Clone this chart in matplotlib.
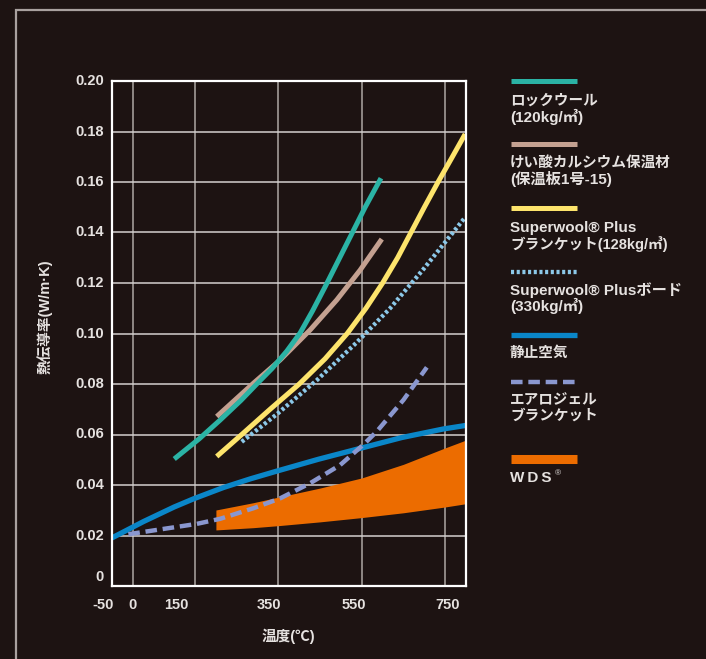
import matplotlib

matplotlib.use("Agg")
import matplotlib.pyplot as plt
import matplotlib.transforms as mtransforms

# ---- data ----
rockwool_t = [100, 160, 210, 260, 298, 335, 370, 402, 432, 462, 494, 526,
              558, 596]
rockwool_k = [0.0503, 0.0583, 0.0657, 0.0735, 0.0800, 0.0862, 0.0930,
              0.1002, 0.1090, 0.1185, 0.1290, 0.1395, 0.1500, 0.1615]

casi_t = [202, 290, 354, 426, 490, 546, 598]
casi_k = [0.0671, 0.0803, 0.0895, 0.1014, 0.1133, 0.1251, 0.1374]

blanket_t = [202, 262, 330, 400, 462, 515, 560, 600, 636, 668, 700, 733,
             764, 798]
blanket_k = [0.0513, 0.0600, 0.0700, 0.0800, 0.0900, 0.1000, 0.1100,
             0.1200, 0.1300, 0.1400, 0.1500, 0.1600, 0.1690, 0.1790]

board_t = [262, 346, 442, 538, 618, 698, 796]
board_k = [0.0571, 0.0680, 0.0815, 0.0965, 0.1100, 0.1255, 0.1456]

air_t = [-50, 26, 100, 146, 218, 282, 346, 446, 546, 646, 746, 800]
air_k = [0.0190, 0.0255, 0.0313, 0.0345, 0.0390, 0.0424, 0.0455, 0.0502,
         0.0545, 0.0588, 0.0622, 0.0636]

aerogel_t = [-10, 66, 154, 210, 290, 354, 426, 498, 554, 586, 650, 706]
aerogel_k = [0.0205, 0.0224, 0.0246, 0.0266, 0.0308, 0.0347, 0.0407,
             0.0479, 0.0560, 0.0612, 0.0737, 0.0866]

wds_t = [200, 290, 350, 450, 550, 650, 750, 800]
wds_hi = [0.0301, 0.0330, 0.0352, 0.0388, 0.0428, 0.0482, 0.0547, 0.0578]
wds_lo = [0.0222, 0.0231, 0.0239, 0.0254, 0.0271, 0.0290, 0.0313, 0.0326]

x_grid = [0, 150, 350, 550, 750]
y_grid = [0.02, 0.04, 0.06, 0.08, 0.10, 0.12, 0.14, 0.16, 0.18]
x_labels = ["-50", "0", "150", "350", "550", "750"]
x_label_pos = [-71, -1, 104, 328, 532, 755]
y_labels = ["0", "0.02", "0.04", "0.06", "0.08", "0.10", "0.12", "0.14",
            "0.16", "0.18", "0.20"]
y_label_pos = [0.0036, 0.02, 0.04, 0.06, 0.08, 0.10, 0.12, 0.14, 0.16,
               0.18, 0.20]

legend_lines = [
    ["ロックウール", "(120kg/㎥)"],
    ["けい酸カルシウム保温材", "(保温板1号-15)"],
    ["Superwool® Plus", "ブランケット(128kg/㎥)"],
    ["Superwool® Plusボード", "(330kg/㎥)"],
    ["静止空気"],
    ["エアロジェル", "ブランケット"],
    ["W\u2009D\u2009S"],
]

BG = "#1d1312"
INK = "#e6e2e0"
TEAL = "#2bb3a5"
TAN = "#c4a191"
YEL = "#fde46c"
LBLUE = "#8cc8e8"
BLUE = "#0a86c8"
DASH = "#8a97cf"
ORANGE = "#ec6c00"
FONT = ["Liberation Sans", "Noto Sans CJK JP", "DejaVu Sans"]

W, H = 706, 659
plt.rcParams["font.family"] = FONT

fig = plt.figure(figsize=(W / 100, H / 100), dpi=100)
fig.patch.set_facecolor(BG)

# overlay in pixel coords for the frame and the legend
ov = fig.add_axes([0, 0, 1, 1])
ov.set_xlim(0, W)
ov.set_ylim(H, 0)
ov.axis("off")
ov.plot([16, 16, W], [H, 10, 10], color="#a9a19f", lw=1.6,
        solid_joinstyle="miter")

ax = fig.add_axes([111.7 / W, 1 - 586 / H, 354.3 / W, 505 / H])
ax.set_facecolor(BG)
ax.set_xlim(-50, 800)
ax.set_ylim(0, 0.20)

for x in x_grid:
    ax.axvline(x, color="#a29b98", lw=1.2, zorder=1)
for y in y_grid:
    ax.axhline(y, color="#d4d0ce", lw=1.1, zorder=1)
for s in ax.spines.values():
    s.set_color("white")
    s.set_linewidth(1.6)
    s.set_zorder(7)
ax.set_xticks([])
ax.set_yticks([])

tx = mtransforms.blended_transform_factory(ax.transData, ax.transAxes)
ty = mtransforms.blended_transform_factory(ax.transAxes, ax.transData)
for lab, xp in zip(x_labels, x_label_pos):
    ax.text(xp, -0.0376, lab, transform=tx, ha="center", va="center",
            color=INK, fontsize=10.5, fontweight="bold", clip_on=False)
for lab, yp in zip(y_labels, y_label_pos):
    ax.text(-0.022, yp, lab, transform=ty, ha="right", va="center",
            color=INK, fontsize=10.5, fontweight="bold", clip_on=False)

fig.text(288 / W, 1 - 636 / H, "温度(℃)", ha="center", va="center",
         color=INK, fontsize=10.5, fontweight="bold")
fig.text(45 / W, 1 - 317 / H, "熱伝導率(W/m·K)", ha="center", va="center",
         rotation=90, color=INK, fontsize=10.5, fontweight="bold")

# series
ax.fill_between(wds_t, wds_lo, wds_hi, color=ORANGE, lw=0, zorder=2)
ax.plot(air_t, air_k, color=BLUE, lw=3.8, zorder=3, solid_capstyle="butt",
        solid_joinstyle="round")
ax.plot(aerogel_t, aerogel_k, color=DASH, lw=3.2, zorder=4,
        dashes=(2.6, 1.3), dash_capstyle="butt")
ax.plot(board_t, board_k, color=LBLUE, lw=3.1, zorder=4,
        dashes=(0.72, 0.6), dash_capstyle="butt")
ax.plot(blanket_t, blanket_k, color=YEL, lw=3.6, zorder=5,
        solid_capstyle="butt", solid_joinstyle="round")
ax.plot(casi_t, casi_k, color=TAN, lw=3.6, zorder=5, solid_capstyle="butt",
        solid_joinstyle="round")
ax.plot(rockwool_t, rockwool_k, color=TEAL, lw=3.6, zorder=6,
        solid_capstyle="butt", solid_joinstyle="round")

# legend
leg_y = [81, 144, 208, 272, 335, 382, 458.5]
txt_y = [101, 163, 228, 290, 353, 400, 478]
styles = [
    dict(color=TEAL, lw=3.6),
    dict(color=TAN, lw=3.6),
    dict(color=YEL, lw=3.6),
    dict(color=LBLUE, lw=3.1, dashes=(0.72, 0.6)),
    dict(color=BLUE, lw=3.8),
    dict(color=DASH, lw=3.2, dashes=(2.6, 1.3)),
    dict(color=ORANGE, lw=6.5),
]
for ly, y0, lines, st in zip(leg_y, txt_y, legend_lines, styles):
    ov.plot([511, 577], [ly, ly], solid_capstyle="butt",
            dash_capstyle="butt", **st)
    for i, s in enumerate(lines):
        size = 11 if s[0].isascii() else 10.5
        ov.text(510, y0 + i * 16, s, ha="left", va="center", color=INK,
                fontsize=size, fontweight="bold")
ov.text(555, 474, "®", ha="left", va="center", color=INK, fontsize=6)

fig.savefig("out.png", dpi=100, facecolor=BG)
